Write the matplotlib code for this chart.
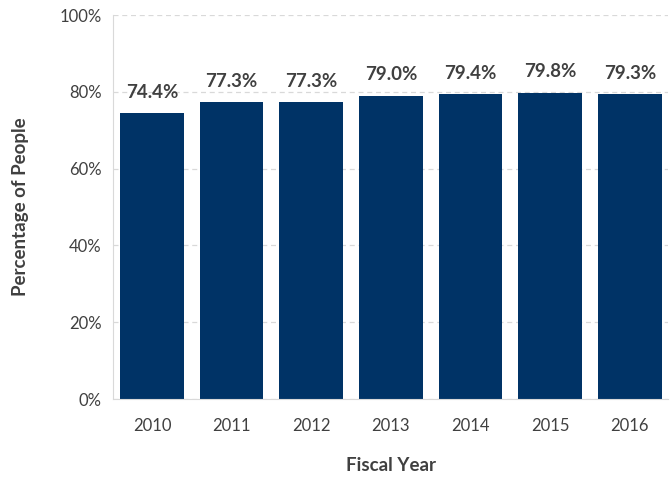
import matplotlib
matplotlib.use("Agg")
import matplotlib.pyplot as plt
from matplotlib.ticker import FuncFormatter

years = ["2010", "2011", "2012", "2013", "2014", "2015", "2016"]
percent = [74.4, 77.3, 77.3, 79.0, 79.4, 79.8, 79.3]

BAR = "#003366"
TEXT = "#404040"
GRID = "#d9d9d9"

plt.rcParams["font.family"] = ["Lato", "DejaVu Sans"]

fig = plt.figure(figsize=(6.72, 4.78), dpi=100)
ax = fig.add_axes([113 / 672, 1 - 399 / 478, (668 - 113) / 672, (399 - 15) / 478])

x = range(len(years))
ax.bar(x, percent, width=0.8, color=BAR, zorder=2)
for xi, v in zip(x, percent):
    ax.annotate(f"{v:.1f}%", (xi, v), xytext=(0, 9), textcoords="offset points",
                ha="center", va="bottom", fontsize=13.5, fontweight="bold", color=TEXT)

ax.set_xlim(-0.49, 6.48)
ax.set_ylim(0, 100)
ax.set_yticks(range(0, 101, 20))
ax.yaxis.set_major_formatter(FuncFormatter(lambda v, _: f"{v:.0f}%"))
ax.set_xticks(list(x))
ax.set_xticklabels(years)
ax.grid(axis="y", color=GRID, linestyle=(0, (4, 3)), linewidth=0.9, zorder=0)
ax.tick_params(length=0, labelsize=12, colors=TEXT)
ax.tick_params(axis="x", pad=14)
ax.tick_params(axis="y", pad=8)
for side in ["top", "right"]:
    ax.spines[side].set_visible(False)
for side in ["left", "bottom"]:
    ax.spines[side].set_color(GRID)

ax.set_xlabel("Fiscal Year", fontsize=13.5, fontweight="bold", color=TEXT, labelpad=16)
ax.set_ylabel("Percentage of People", fontsize=13.5, fontweight="bold", color=TEXT, labelpad=22)

fig.savefig("out.png", dpi=100)
